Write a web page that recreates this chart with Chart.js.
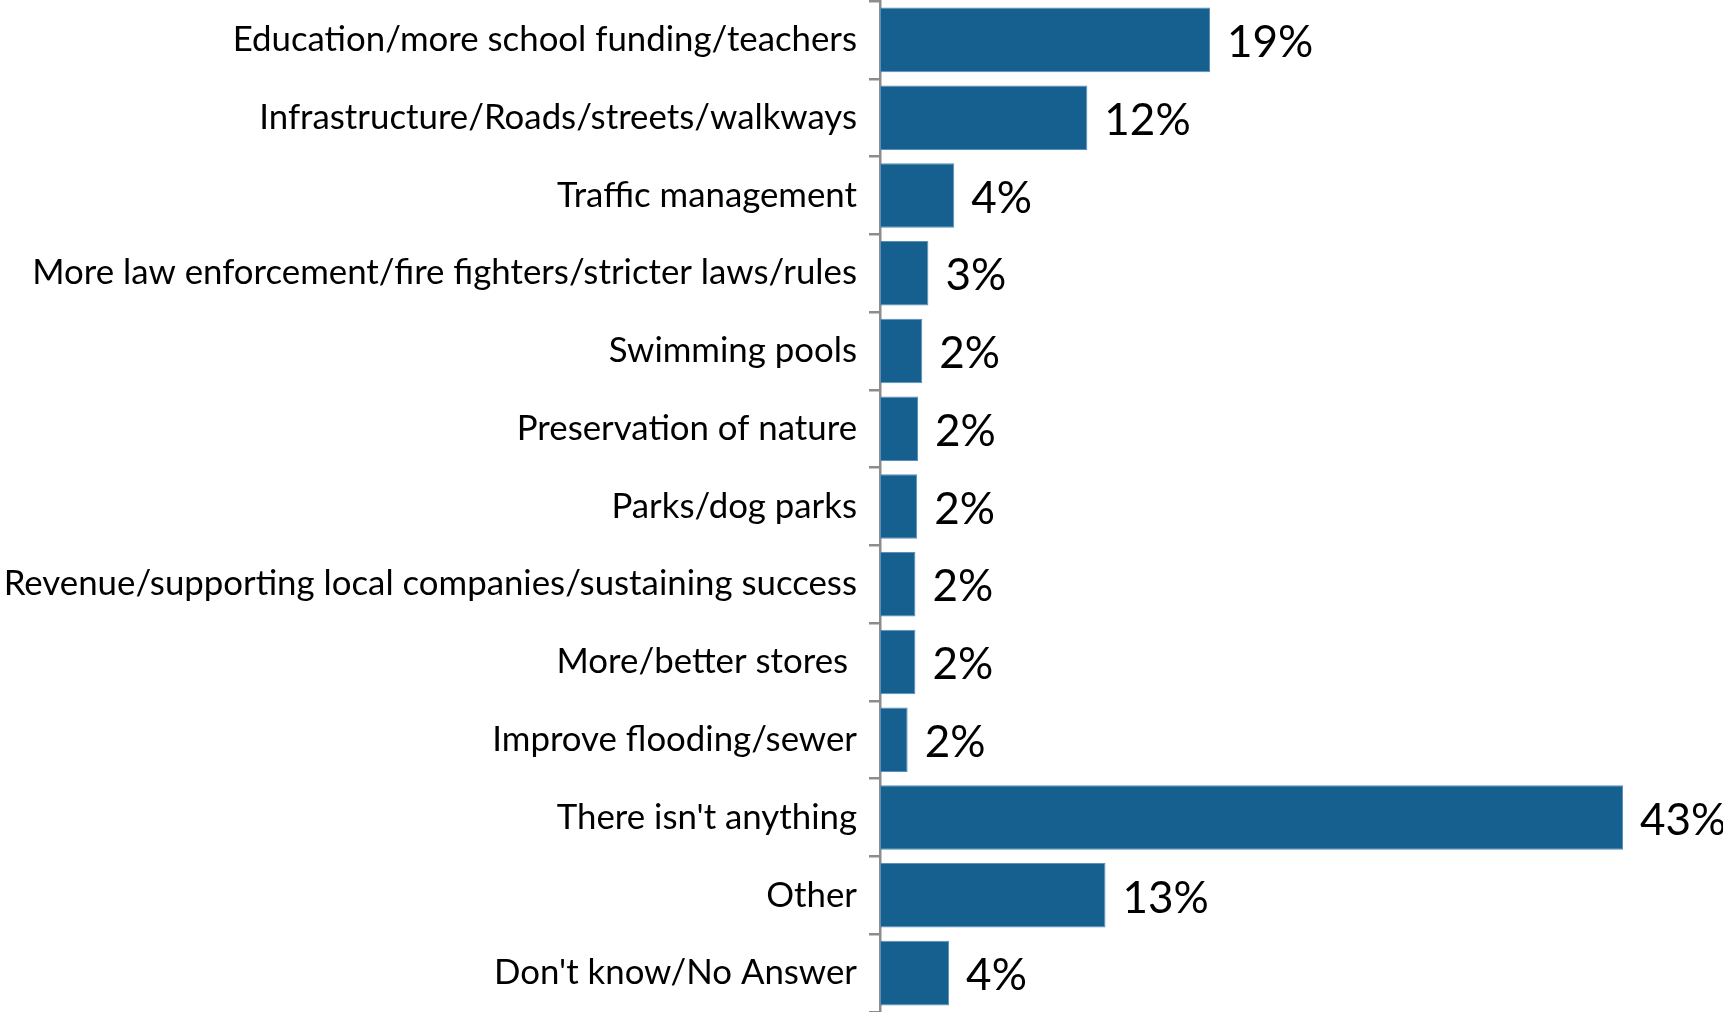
<!DOCTYPE html>
<html>
<head>
<meta charset="utf-8">
<script src="https://cdn.jsdelivr.net/npm/chart.js@4"></script>
<style>
html,body{margin:0;padding:0;background:#fff;}
#wrap{position:relative;width:1723px;height:1012px;}
</style>
</head>
<body>
<div id="wrap"><canvas id="c"></canvas></div>
<script>
const categories = [
  "Education/more school funding/teachers",
  "Infrastructure/Roads/streets/walkways",
  "Traffic management",
  "More law enforcement/fire fighters/stricter laws/rules",
  "Swimming pools",
  "Preservation of nature",
  "Parks/dog parks",
  "Revenue/supporting local companies/sustaining success",
  "More/better stores ",
  "Improve flooding/sewer",
  "There isn't anything",
  "Other",
  "Don't know/No Answer"
];
const values = [19.1, 12.0, 4.3, 2.8, 2.45, 2.2, 2.15, 2.05, 2.05, 1.6, 43.0, 13.05, 4.0];
const valueLabels = ["19%","12%","4%","3%","2%","2%","2%","2%","2%","2%","43%","13%","4%"];

const FONT = "Lato";
const BAR = "#15608f";
const AXIS = "#8c8c8c";

const valueLabelPlugin = {
  id: "valueLabels",
  afterDatasetsDraw(chart) {
    const ctx = chart.ctx;
    const meta = chart.getDatasetMeta(0);
    ctx.save();
    ctx.font = "44px " + FONT;
    ctx.fillStyle = "#000";
    ctx.textAlign = "left";
    ctx.textBaseline = "middle";
    meta.data.forEach((el, i) => {
      ctx.fillText(valueLabels[i], el.x + 17, el.y + 3);
    });
    ctx.restore();
  }
};

new Chart(document.getElementById("c"), {
  type: "bar",
  data: {
    labels: categories,
    datasets: [{
      data: values,
      backgroundColor: BAR,
      borderColor: "#5b8fb8",
      borderWidth: 1,
      borderSkipped: false,
      barPercentage: 0.83,
      categoryPercentage: 1.0
    }]
  },
  options: {
    indexAxis: "y",
    responsive: true,
    maintainAspectRatio: false,
    animation: false,
    layout: { padding: { left: 0, right: 100, top: 1, bottom: 0 } },
    plugins: { legend: { display: false }, tooltip: { enabled: false } },
    scales: {
      x: {
        display: false,
        min: 0,
        max: 43
      },
      y: {
        afterFit(scale) {
          scale.width = 880;
          scale.paddingTop = 0;
          scale.paddingBottom = 0;
        },
        grid: {
          offset: true,
          drawOnChartArea: false,
          drawTicks: true,
          tickLength: 11,
          color: AXIS,
          lineWidth: 2.5
        },
        border: { display: true, color: AXIS, width: 2.5 },
        ticks: {
          color: "#000",
          padding: 12,
          font: { family: FONT, size: 34.8 },
          autoSkip: false
        }
      }
    }
  },
  plugins: [valueLabelPlugin]
});
</script>
</body>
</html>
